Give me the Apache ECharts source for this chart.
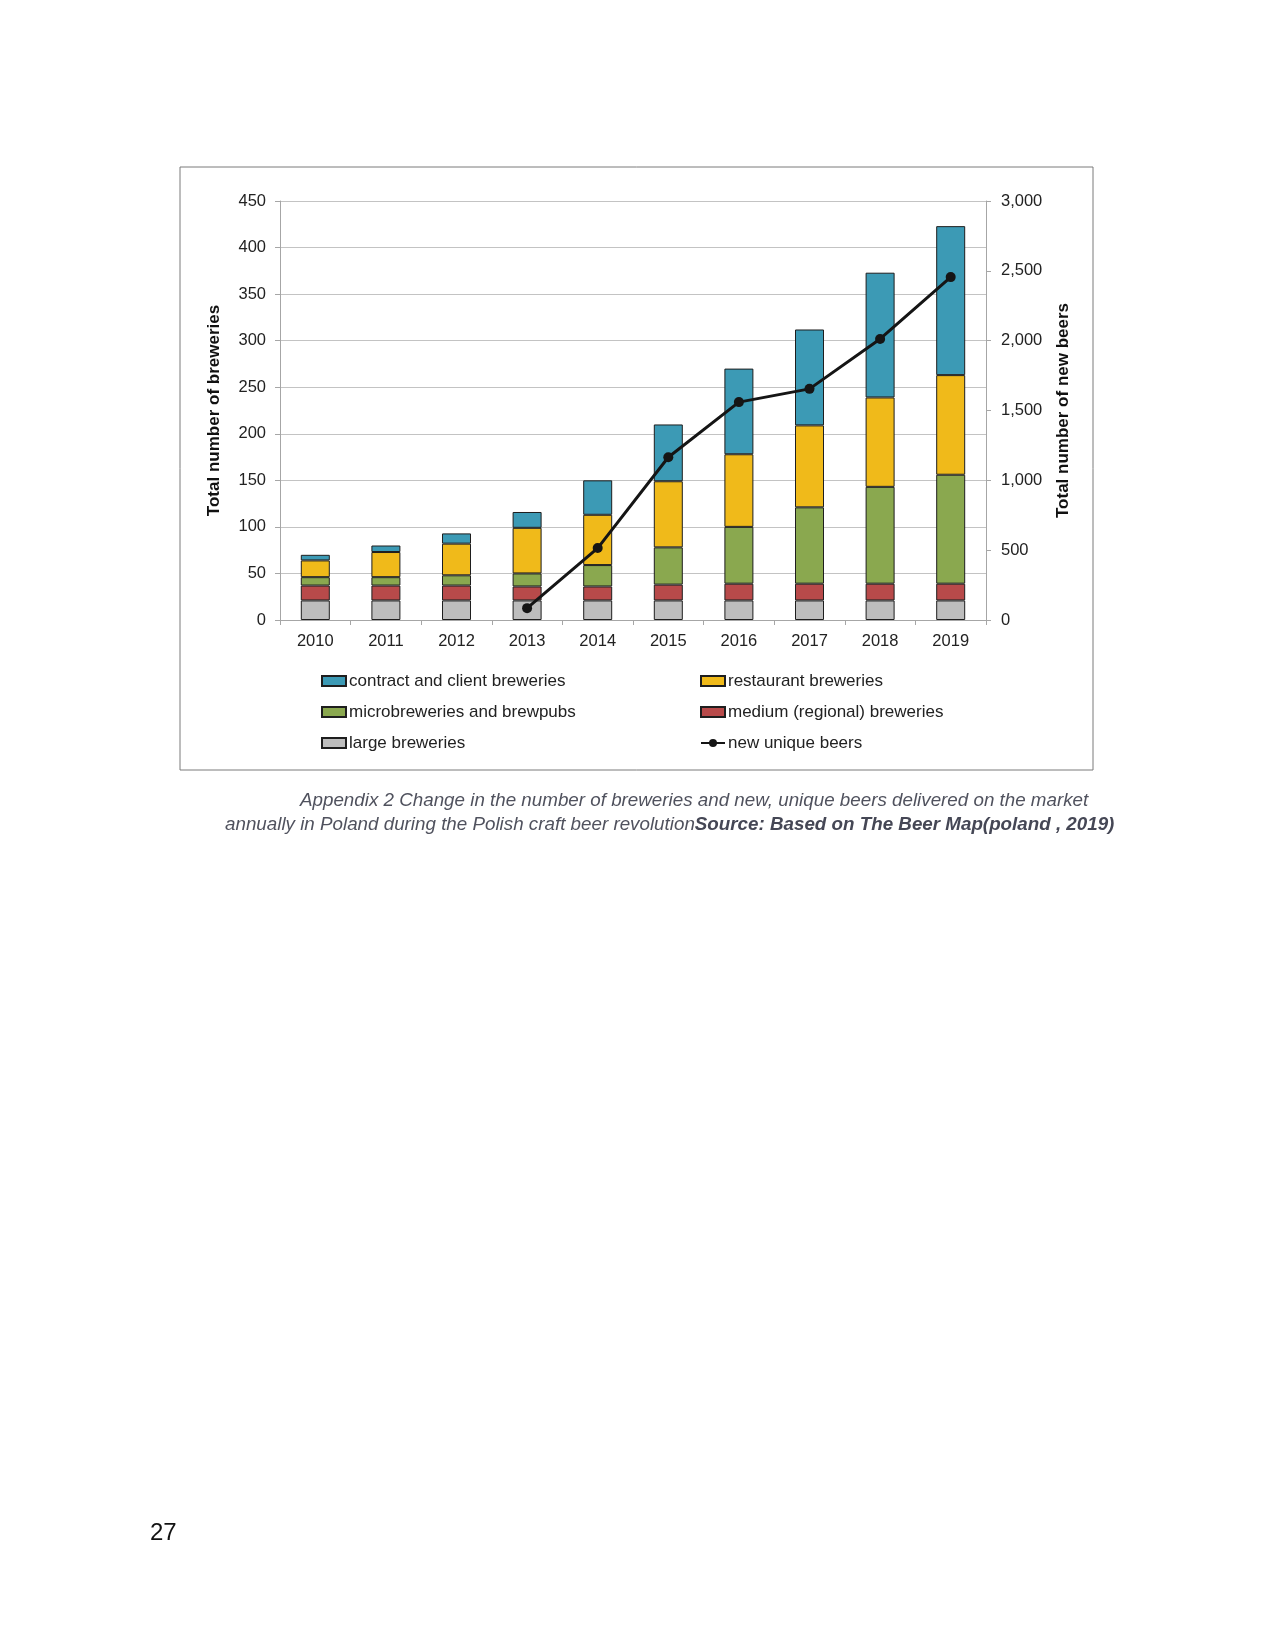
<!DOCTYPE html>
<html>
<head>
<meta charset="utf-8">
<script src="https://cdn.jsdelivr.net/npm/echarts@6/dist/echarts.min.js"></script>
<style>
html,body{margin:0;padding:0;background:#fff;}
#c{width:1275px;height:1651px;}
</style>
</head>
<body>
<div id="c"></div>
<script>
const years = ['2010','2011','2012','2013','2014','2015','2016','2017','2018','2019'];
const large = [21,21,21,21,21,21,21,21,21,21];
const medium = [16,16,16,15,15,17,18,18,18,18];
const micro = [9,9,11,14,23,40,61,82,104,117];
const restaurant = [18,27,34,49,54,71,78,88,96,107];
const contract = [6,7,11,17,37,61,92,103,134,160];
const newBeers = [null,null,null,85,515,1165,1560,1655,2012,2455];
const leftTicks = {min:0, max:450, interval:50};
const rightTicks = {min:0, max:3000, interval:500};

const FONT = '"Liberation Sans", Arial, sans-serif';
const chart = echarts.init(document.getElementById('c'), null, {renderer:'canvas'});
const border = {borderColor:'#1e1e1e', borderWidth:1};
function barSeries(name, data, color){
  return {name, type:'bar', stack:'b', data, barWidth:29,
    itemStyle:Object.assign({color}, border), emphasis:{disabled:true}};
}
const legText = {fontSize:17, color:'#222', lineHeight:18, fontFamily:FONT, padding:[0,0,0,-2]};
chart.setOption({
  animation:false,
  textStyle:{fontFamily:FONT},
  grid:{left:280, right:289, top:201, bottom:1031, containLabel:false},
  xAxis:{type:'category', data:years, boundaryGap:true,
    axisLine:{lineStyle:{color:'#a6a6a6', width:1}},
    axisTick:{show:true, length:5, inside:false, alignWithLabel:false, lineStyle:{color:'#a6a6a6'}},
    axisLabel:{fontSize:16.5, color:'#222', margin:13, fontFamily:FONT}},
  yAxis:[
    {type:'value', min:leftTicks.min, max:leftTicks.max, interval:leftTicks.interval,
     name:'Total number of breweries', nameLocation:'middle', nameGap:57, nameRotate:90,
     nameTextStyle:{fontSize:17, fontWeight:'bold', color:'#111', fontFamily:FONT},
     axisLine:{show:true, lineStyle:{color:'#a6a6a6'}},
     axisTick:{show:true, length:5, lineStyle:{color:'#a6a6a6'}},
     axisLabel:{fontSize:16.5, color:'#222', margin:14, fontFamily:FONT},
     splitLine:{show:true, lineStyle:{color:'#c3c3c3', width:1}}},
    {type:'value', min:rightTicks.min, max:rightTicks.max, interval:rightTicks.interval, position:'right',
     name:'Total number of new beers', nameLocation:'middle', nameGap:69, nameRotate:90,
     nameTextStyle:{fontSize:17, fontWeight:'bold', color:'#111', fontFamily:FONT},
     axisLine:{show:true, lineStyle:{color:'#a6a6a6'}},
     axisTick:{show:true, length:5, lineStyle:{color:'#a6a6a6'}},
     axisLabel:{fontSize:16.5, color:'#222', margin:15, fontFamily:FONT,
       formatter:v=>v.toLocaleString('en-US')},
     splitLine:{show:false}}
  ],
  legend:[
    {orient:'vertical', left:316, top:667, itemWidth:24, itemHeight:10, itemGap:13,
     data:[{name:'contract and client breweries', icon:'rect'},{name:'microbreweries and brewpubs', icon:'rect'},{name:'large breweries', icon:'rect'}],
     textStyle:legText},
    {orient:'vertical', left:695, top:667, itemWidth:24, itemHeight:10, itemGap:13,
     data:[{name:'restaurant breweries', icon:'rect'},{name:'medium (regional) breweries', icon:'rect'},'new unique beers'],
     textStyle:legText}
  ],
  series:[
    barSeries('large breweries', large, '#bdbdbd'),
    barSeries('medium (regional) breweries', medium, '#b84a4a'),
    barSeries('microbreweries and brewpubs', micro, '#8aa84f'),
    barSeries('restaurant breweries', restaurant, '#f0ba1a'),
    barSeries('contract and client breweries', contract, '#3c9ab5'),
    {name:'new unique beers', type:'line', yAxisIndex:1, data:newBeers, connectNulls:false,
     symbol:'circle', symbolSize:10, lineStyle:{color:'#151515', width:3},
     itemStyle:{color:'#151515'}, emphasis:{disabled:true}, z:10}
  ],
  graphic:[
    {type:'rect', shape:{x:180, y:167, width:913, height:603}, style:{fill:'none', stroke:'#7a7a7a', lineWidth:1}, silent:true},
    {type:'text', left:300, top:791, style:{text:'Appendix 2 Change in the number of breweries and new, unique beers delivered on the market',
      font:'italic 18.8px "Liberation Sans", Arial, sans-serif', fill:'#50525e'}},
    {type:'text', left:225, top:815, style:{
      text:'{n|annually in Poland during the Polish craft beer revolution}{b|Source: Based on The Beer Map(poland , 2019)}',
      rich:{n:{font:'italic 18.8px "Liberation Sans", Arial, sans-serif', fill:'#50525e'},
            b:{font:'italic bold 18.8px "Liberation Sans", Arial, sans-serif', fill:'#454755'}}}},
    {type:'text', left:150, top:1521, style:{text:'27', font:'24px "Liberation Sans", Arial, sans-serif', fill:'#111'}}
  ]
});
</script>
</body>
</html>
